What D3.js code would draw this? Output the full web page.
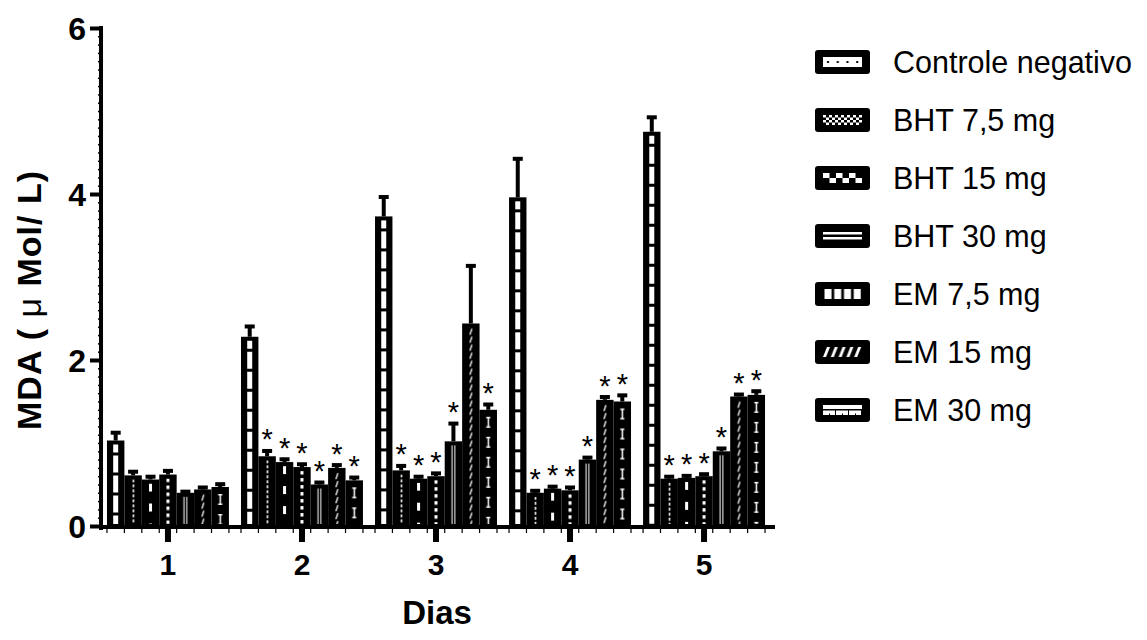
<!DOCTYPE html>
<html>
<head>
<meta charset="utf-8">
<script src="https://cdn.jsdelivr.net/npm/d3@7"></script>
<style>
body{margin:0;background:#fff}
text{font-family:"Liberation Sans",Arial,sans-serif}
</style>
</head>
<body>
<div id="chart"></div>
<script>
var days = ["1","2","3","4","5"];
var series = ["Controle negativo","BHT 7,5 mg","BHT 15 mg","BHT 30 mg","EM 7,5 mg","EM 15 mg","EM 30 mg"];
var keys = ["ctrl","bht75","bht15","bht30","em75","em15","em30"];

// means and SEM per day (1..5)
var ctrlMean  = [1.03, 2.28, 3.73, 3.96, 4.75];
var ctrlErr   = [0.10, 0.13, 0.24, 0.47, 0.18];
var bht75Mean = [0.61, 0.84, 0.67, 0.40, 0.57];
var bht75Err  = [0.05, 0.07, 0.06, 0.03, 0.03];
var bht15Mean = [0.56, 0.77, 0.57, 0.45, 0.58];
var bht15Err  = [0.04, 0.04, 0.03, 0.03, 0.03];
var bht30Mean = [0.62, 0.71, 0.60, 0.43, 0.60];
var bht30Err  = [0.05, 0.04, 0.04, 0.04, 0.03];
var em75Mean  = [0.40, 0.50, 1.02, 0.80, 0.90];
var em75Err   = [0.02, 0.03, 0.22, 0.03, 0.04];
var em15Mean  = [0.44, 0.70, 2.44, 1.52, 1.56];
var em15Err   = [0.03, 0.04, 0.70, 0.04, 0.03];
var em30Mean  = [0.47, 0.55, 1.40, 1.50, 1.58];
var em30Err   = [0.04, 0.04, 0.07, 0.08, 0.05];

// significance marks (*)
var ctrlStar  = [0,0,0,0,0];
var bht75Star = [0,1,1,1,1];
var bht15Star = [0,1,1,1,1];
var bht30Star = [0,1,1,1,1];
var em75Star  = [0,1,1,1,1];
var em15Star  = [0,1,0,1,1];
var em30Star  = [0,1,1,1,1];

var yTicks = [0, 2, 4, 6];

var means = [ctrlMean, bht75Mean, bht15Mean, bht30Mean, em75Mean, em15Mean, em30Mean];
var errs  = [ctrlErr, bht75Err, bht15Err, bht30Err, em75Err, em15Err, em30Err];
var stars = [ctrlStar, bht75Star, bht15Star, bht30Star, em75Star, em15Star, em30Star];

var data = [];
days.forEach(function(d, i){
  series.forEach(function(s, j){
    data.push({day: d, key: keys[j], mean: means[j][i], err: errs[j][i], star: stars[j][i]});
  });
});

var W = 1147, H = 640;
var svg = d3.select("#chart").append("svg").attr("width", W).attr("height", H);

var x0 = d3.scaleBand().domain(days).range([100, 772]).paddingInner(0.09).paddingOuter(0.052);
var x1 = d3.scaleBand().domain(keys).range([0, x0.bandwidth()]);
var y = d3.scaleLinear().domain([0, 6]).range([526, 28]);

// ---- patterns ----
var defs = svg.append("defs");
function pat(id, w, h, bg, draw){
  var p = defs.append("pattern").attr("id", id).attr("patternUnits", "userSpaceOnUse")
    .attr("width", w).attr("height", h);
  p.append("rect").attr("width", w).attr("height", h).attr("fill", bg);
  draw(p);
}
function r(p, x, yy, w, h, c){ p.append("rect").attr("x", x).attr("y", yy).attr("width", w).attr("height", h).attr("fill", c); }

var SW = 5; // strip width inside bars
pat("v-ctrl", SW, 20, "#fff", function(p){ r(p, 0, 8, SW, 3, "#000"); });
pat("v-bht75", SW, 5, "#000", function(p){ r(p, 2, 0, 1.5, 3, "#fff"); });
pat("v-bht15", SW, 20, "#000", function(p){ r(p, 1, 0, 3, 8, "#fff"); });
pat("v-bht30", SW, 7, "#000", function(p){ r(p, 1, 0, 3, 3.5, "#fff"); });
pat("v-em75", SW, 10, "#000", function(p){ r(p, 0.6, 0, 1, 10, "#fff"); r(p, 3.4, 0, 1, 10, "#fff"); });
pat("v-em15", SW, 8, "#000", function(p){
  p.append("path").attr("d", "M1,7 L3,1 L4.2,1.5 L2.2,7.5 Z").attr("fill", "#fff");
});
pat("v-em30", SW, 20, "#000", function(p){
  r(p, 1.8, 3, 1.5, 11, "#fff"); r(p, 0.5, 3, 4, 1.5, "#fff"); r(p, 0.5, 12.5, 4, 1.5, "#fff");
});

var LW = 39, LH = 10;
pat("h-ctrl", 9.75, LH, "#fff", function(p){ r(p, 4, 4, 2, 2, "#000"); });
pat("h-bht75", 6, 5, "#000", function(p){ r(p, 0, 0, 3, 2.5, "#fff"); r(p, 3, 2.5, 3, 2.5, "#fff"); });
pat("h-bht15", 13, LH, "#000", function(p){ r(p, 0, 0, 6.5, 5, "#fff"); r(p, 6.5, 5, 6.5, 5, "#fff"); });
pat("h-bht30", LW, LH, "#000", function(p){ r(p, 0, 1, LW, 2.5, "#fff"); r(p, 0, 6, LW, 2.5, "#fff"); });
pat("h-em75", 9.75, LH, "#000", function(p){ r(p, 1.5, 0, 7, LH, "#fff"); });
pat("h-em15", 7.8, LH, "#000", function(p){
  p.append("path").attr("d", "M0,10 L4,0 L7,0 L3,10 Z").attr("fill", "#fff");
});
pat("h-em30", 13, LH, "#fff", function(p){
  r(p, 0, 4, 13, 1.5, "#000"); r(p, 12, 4, 1.5, 6, "#000"); r(p, 6, 8.5, 1, 1.5, "#000");
});

// ---- bars ----
var groups = svg.selectAll(".grp").data(days).enter().append("g")
  .attr("class", "grp")
  .attr("transform", function(d){ return "translate(" + x0(d) + ",0)"; });

var bars = groups.selectAll(".bar")
  .data(function(d){ return data.filter(function(e){ return e.day == d; }); })
  .enter().append("g").attr("class", "bar");

bars.append("rect")
  .attr("x", function(d){ return x1(d.key); })
  .attr("y", function(d){ return y(d.mean); })
  .attr("width", x1.bandwidth())
  .attr("height", function(d){ return y(0) - y(d.mean); })
  .attr("fill", "#000");

bars.append("g")
  .attr("transform", function(d){ return "translate(" + (x1(d.key) + x1.bandwidth()/2 - SW/2) + "," + (y(d.mean) + 4) + ")"; })
  .append("rect")
  .attr("width", SW)
  .attr("height", function(d){ return Math.max(0, y(0) - y(d.mean) - 6); })
  .attr("fill", function(d){ return "url(#v-" + d.key + ")"; });

// error bars
bars.append("line")
  .attr("x1", function(d){ return x1(d.key) + x1.bandwidth()/2; })
  .attr("x2", function(d){ return x1(d.key) + x1.bandwidth()/2; })
  .attr("y1", function(d){ return y(d.mean); })
  .attr("y2", function(d){ return y(d.mean + d.err); })
  .attr("stroke", "#000").attr("stroke-width", 4);
bars.append("rect")
  .attr("x", function(d){ return x1(d.key) + x1.bandwidth()/2 - 5; })
  .attr("y", function(d){ return y(d.mean + d.err) - 1.5; })
  .attr("width", 10).attr("height", 4).attr("fill", "#000");

// stars
bars.filter(function(d){ return d.star; }).append("text")
  .attr("x", function(d){ return x1(d.key) + x1.bandwidth()/2; })
  .attr("y", function(d){ return y(d.mean + d.err) - 1; })
  .attr("text-anchor", "middle")
  .style("font-size", "29px")
  .text("*");

// ---- axes ----
var yAxis = svg.append("g").attr("transform", "translate(100,0)")
  .call(d3.axisLeft(y).tickValues(yTicks).tickSize(10).tickFormat(d3.format("d")));
yAxis.select(".domain").remove();
yAxis.selectAll(".tick line").attr("stroke-width", 4);
yAxis.selectAll(".tick text").attr("x", -14).attr("dy", "0.36em").style("font-size", "32px").style("font-weight", "bold")
  .style("font-family", "Liberation Sans, Arial, sans-serif");

var yMinor = svg.append("g").attr("transform", "translate(100,0)")
  .call(d3.axisLeft(y).ticks(60).tickSize(5).tickFormat(""));
yMinor.select(".domain").remove();
yMinor.selectAll(".tick line").attr("stroke-width", 1.5).attr("transform", "translate(3,0)");

svg.append("line").attr("x1", 101).attr("x2", 101).attr("y1", y(6) - 2).attr("y2", y(0) + 4)
  .attr("stroke", "#000").attr("stroke-width", 4);

// x axis
var xAxis = svg.append("g").attr("transform", "translate(0," + (y(0) + 2) + ")")
  .call(d3.axisBottom(x0).tickSize(14).tickPadding(12));
xAxis.select(".domain").remove();
xAxis.selectAll(".tick line").attr("stroke-width", 6);
xAxis.selectAll(".tick text").style("font-size", "30px").style("font-weight", "bold")
  .style("font-family", "Liberation Sans, Arial, sans-serif");

var minorX = [];
days.forEach(function(d){ keys.forEach(function(k){ minorX.push(x0(d) + x1(k)); }); minorX.push(x0(d) + x0.bandwidth()); });
svg.selectAll(".xminor").data(minorX).enter().append("line")
  .attr("x1", function(d){ return d; }).attr("x2", function(d){ return d; })
  .attr("y1", y(0)).attr("y2", y(0) + 7)
  .attr("stroke", "#000").attr("stroke-width", 1.2);

svg.append("line").attr("x1", 99).attr("x2", 775).attr("y1", y(0) + 1).attr("y2", y(0) + 1)
  .attr("stroke", "#000").attr("stroke-width", 4);

// axis titles
svg.append("text").attr("x", 437).attr("y", 624).attr("text-anchor", "middle")
  .style("font-size", "33px").style("font-weight", "bold").text("Dias");

var yt = svg.append("text").attr("transform", "translate(41,300) rotate(-90)")
  .attr("text-anchor", "middle").style("font-size", "34px").style("font-weight", "bold")
  .style("letter-spacing", "1px");
yt.append("tspan").text("MDA ( ");
yt.append("tspan").style("font-weight", "normal").text("μ");
yt.append("tspan").text(" Mol/ L)");

// ---- legend ----
var legend = svg.selectAll(".leg").data(series).enter().append("g")
  .attr("class", "leg")
  .attr("transform", function(d, i){ return "translate(815," + (62 + i*58) + ")"; });

legend.append("rect").attr("x", 0).attr("y", -12).attr("width", 55).attr("height", 24)
  .attr("rx", 3).attr("fill", "#000");
legend.append("g").attr("transform", "translate(8," + (-LH/2) + ")")
  .append("rect").attr("width", LW).attr("height", LH)
  .attr("fill", function(d, i){ return "url(#h-" + keys[i] + ")"; });
legend.append("text").attr("x", 78).attr("dy", "0.36em")
  .style("font-size", "30.5px").text(function(d){ return d; });
</script>
</body>
</html>
